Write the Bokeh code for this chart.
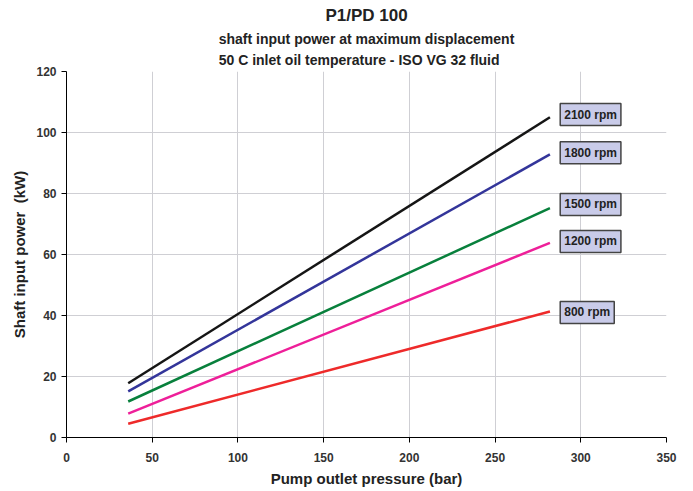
from bokeh.plotting import figure
from bokeh.models import Label, Title, FixedTicker, Range1d
from bokeh.embed import file_html
from bokeh.resources import INLINE

pressure = [36, 282]
series = {
    "2100 rpm": [17.8, 105.0],
    "1800 rpm": [15.1, 92.8],
    "1500 rpm": [11.8, 75.2],
    "1200 rpm": [7.8, 63.8],
    "800 rpm": [4.5, 41.3],
}
colors = {
    "2100 rpm": "#151515",
    "1800 rpm": "#33359a",
    "1500 rpm": "#08803c",
    "1200 rpm": "#ee1f99",
    "800 rpm": "#ee2a2a",
}
label_y = {
    "2100 rpm": 105.9,
    "1800 rpm": 93.4,
    "1500 rpm": 76.4,
    "1200 rpm": 64.3,
    "800 rpm": 41.0,
}
x_ticks = [0, 50, 100, 150, 200, 250, 300, 350]
y_ticks = [0, 20, 40, 60, 80, 100, 120]

FONT = "Liberation Sans"

p = figure(width=688, height=490, output_backend="svg", toolbar_location=None,
           x_range=Range1d(0, 350), y_range=Range1d(0, 120),
           min_border_left=66, min_border_right=22, min_border_bottom=53, min_border_top=71)
p.title.visible = False

p.add_layout(Title(text="shaft input power at maximum displacement\n50 C inlet oil temperature - ISO VG 32 fluid",
                   align="center", text_font=FONT, text_font_size="14px",
                   text_font_style="bold", text_color="#222222", standoff=6,
                   text_line_height=1.35), "above")
p.add_layout(Title(text="P1/PD 100", align="center", text_font=FONT, text_font_size="17px",
                   text_font_style="bold", text_color="#222222", standoff=1), "above")

for name, vals in series.items():
    p.line(pressure, vals, line_color=colors[name], line_width=2.5)
    p.add_layout(Label(x=288, y=label_y[name], text=name, text_font=FONT,
                       text_font_size="12px", text_font_style="bold",
                       text_color="#222222", text_baseline="middle",
                       background_fill_color="#c9cbe9",
                       border_line_color="#444444", border_line_width=1.5,
                       padding=4))

p.xaxis.ticker = FixedTicker(ticks=x_ticks)
p.yaxis.ticker = FixedTicker(ticks=y_ticks)
for ax in (p.xaxis, p.yaxis):
    ax.axis_line_color = "#000000"
    ax.major_tick_line_color = "#000000"
    ax.major_tick_out = 5
    ax.major_tick_in = 0
    ax.minor_tick_line_color = None
    ax.major_label_text_font = FONT
    ax.major_label_text_font_size = "12px"
    ax.major_label_text_font_style = "bold"
    ax.major_label_text_color = "#333333"
    ax.axis_label_text_font = FONT
    ax.axis_label_text_font_size = "15px"
    ax.axis_label_text_font_style = "bold"
    ax.axis_label_text_color = "#222222"
p.xaxis.major_label_standoff = 10
p.xaxis.axis_label_standoff = 5
p.xaxis.axis_label = "Pump outlet pressure (bar)"
p.yaxis.axis_label = "Shaft input power\u00a0 (kW)"

p.grid.grid_line_color = "#cfcfd4"
p.grid.grid_line_width = 1
p.outline_line_color = None
p.background_fill_color = "white"

open("out.html", "w").write(file_html(p, INLINE))
